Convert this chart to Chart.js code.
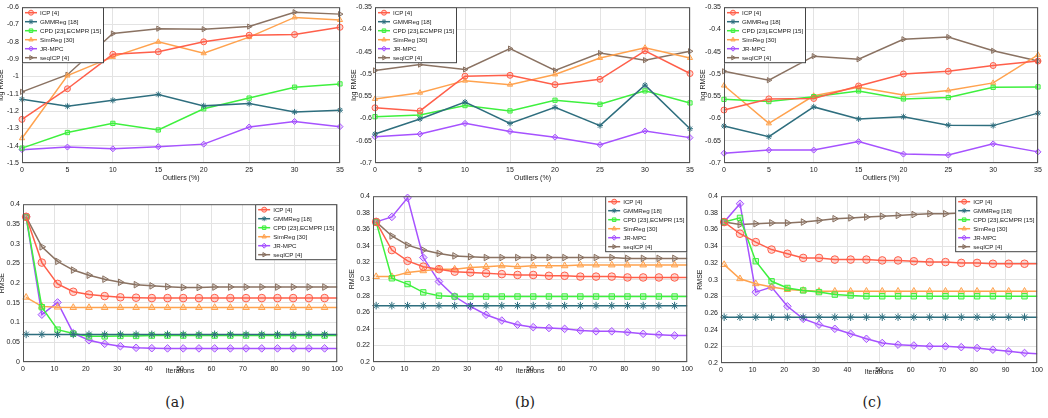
<!DOCTYPE html>
<html lang="en">
<head>
<meta charset="UTF-8">
<title>RMSE comparison</title>
<script src="https://cdn.jsdelivr.net/npm/chart.js"></script>
<style>
  body { margin: 0; background: #fff; width: 1048px; height: 418px; position: relative; overflow: hidden; }
  .panel { position: absolute; }
  .cap { position: absolute; top: 394px; width: 40px; margin-left: -20px; text-align: center;
         font-family: "DejaVu Serif", "Liberation Serif", serif; font-size: 14px; color: #222; }
</style>
</head>
<body>
<canvas class="panel" id="ta"></canvas>
<canvas class="panel" id="tb"></canvas>
<canvas class="panel" id="tc"></canvas>
<canvas class="panel" id="ba"></canvas>
<canvas class="panel" id="bb"></canvas>
<canvas class="panel" id="bc"></canvas>
<div class="cap" style="left:175px">(a)</div>
<div class="cap" style="left:525px">(b)</div>
<div class="cap" style="left:872px">(c)</div>

<script>
// series names, shared by all six plots
const methods = ['ICP [4]', 'GMMReg [18]', 'CPD [23],ECMPR [15]', 'SimReg [30]', 'JR-MPC', 'seqICP [4]'];

// x values
const outliers = [0, 5, 10, 15, 20, 25, 30, 35];
const iters = [1, 6, 11, 16, 21, 26, 31, 36, 41, 46, 51, 56, 61, 66, 71, 76, 81, 86, 91, 96, 100];

// top row: log RMSE vs outliers (%)
const topA_icp = [-1.248, -1.071, -0.872, -0.857, -0.800, -0.762, -0.758, -0.716];
const topA_gmm = [-1.132, -1.172, -1.138, -1.104, -1.170, -1.157, -1.205, -1.195];
const topA_cpd = [-1.414, -1.324, -1.271, -1.309, -1.187, -1.125, -1.062, -1.043];
const topA_sim = [-1.357, -0.995, -0.887, -0.800, -0.866, -0.773, -0.659, -0.674];
const topA_jr  = [-1.423, -1.408, -1.418, -1.406, -1.391, -1.292, -1.260, -1.290];
const topA_seq = [-1.089, -0.990, -0.752, -0.724, -0.727, -0.712, -0.629, -0.640];

const topB_icp = [-0.576, -0.583, -0.505, -0.503, -0.524, -0.512, -0.448, -0.499];
const topB_gmm = [-0.635, -0.601, -0.563, -0.611, -0.575, -0.616, -0.525, -0.623];
const topB_cpd = [-0.596, -0.592, -0.571, -0.583, -0.559, -0.568, -0.538, -0.565];
const topB_sim = [-0.556, -0.542, -0.515, -0.524, -0.501, -0.464, -0.441, -0.464];
const topB_jr  = [-0.641, -0.635, -0.611, -0.629, -0.642, -0.659, -0.628, -0.643];
const topB_seq = [-0.492, -0.479, -0.490, -0.443, -0.492, -0.453, -0.469, -0.449];

const topC_icp = [-0.581, -0.556, -0.555, -0.527, -0.500, -0.494, -0.481, -0.471];
const topC_gmm = [-0.617, -0.641, -0.574, -0.601, -0.596, -0.615, -0.616, -0.588];
const topC_cpd = [-0.557, -0.562, -0.551, -0.538, -0.556, -0.553, -0.530, -0.529];
const topC_sim = [-0.526, -0.611, -0.549, -0.530, -0.547, -0.537, -0.520, -0.457];
const topC_jr  = [-0.678, -0.671, -0.671, -0.652, -0.680, -0.682, -0.657, -0.675];
const topC_seq = [-0.494, -0.514, -0.460, -0.467, -0.422, -0.417, -0.448, -0.471];

// bottom row: RMSE vs iterations
const botA_icp = [0.368, 0.252, 0.198, 0.178, 0.171, 0.167, 0.164, 0.163, 0.162, 0.162, 0.162, 0.162, 0.162, 0.162, 0.162, 0.162, 0.162, 0.162, 0.162, 0.162, 0.162];
const botA_gmm = [0.070, 0.070, 0.070, 0.070, 0.070, 0.070, 0.070, 0.070, 0.070, 0.070, 0.070, 0.070, 0.070, 0.070, 0.070, 0.070, 0.070, 0.070, 0.070, 0.070, 0.070];
const botA_cpd = [0.368, 0.139, 0.082, 0.072, 0.065, 0.065, 0.066, 0.066, 0.067, 0.067, 0.067, 0.067, 0.067, 0.067, 0.067, 0.067, 0.067, 0.067, 0.067, 0.067, 0.067];
const botA_sim = [0.164, 0.141, 0.139, 0.138, 0.138, 0.138, 0.138, 0.138, 0.138, 0.138, 0.138, 0.138, 0.138, 0.138, 0.138, 0.138, 0.138, 0.138, 0.138, 0.138, 0.138];
const botA_jr  = [0.368, 0.120, 0.151, 0.073, 0.055, 0.046, 0.040, 0.036, 0.035, 0.0345, 0.0345, 0.0345, 0.0345, 0.0345, 0.0345, 0.0345, 0.0345, 0.0345, 0.0345, 0.0345, 0.0345];
const botA_seq = [0.368, 0.292, 0.255, 0.233, 0.220, 0.210, 0.202, 0.196, 0.193, 0.191, 0.189, 0.189, 0.190, 0.190, 0.190, 0.190, 0.190, 0.190, 0.190, 0.190, 0.190];

const botB_icp = [0.369, 0.335, 0.322, 0.315, 0.312, 0.309, 0.308, 0.307, 0.306, 0.305, 0.305, 0.304, 0.304, 0.303, 0.303, 0.303, 0.302, 0.302, 0.302, 0.302, 0.302];
const botB_gmm = [0.268, 0.268, 0.268, 0.268, 0.268, 0.268, 0.268, 0.268, 0.268, 0.268, 0.268, 0.268, 0.268, 0.268, 0.268, 0.268, 0.268, 0.268, 0.268, 0.268, 0.268];
const botB_cpd = [0.369, 0.301, 0.294, 0.284, 0.280, 0.279, 0.279, 0.279, 0.279, 0.279, 0.279, 0.279, 0.279, 0.279, 0.279, 0.279, 0.279, 0.279, 0.279, 0.279, 0.279];
const botB_sim = [0.303, 0.303, 0.308, 0.310, 0.312, 0.312, 0.314, 0.315, 0.316, 0.315, 0.316, 0.316, 0.316, 0.317, 0.317, 0.317, 0.317, 0.317, 0.317, 0.317, 0.317];
const botB_jr  = [0.369, 0.375, 0.398, 0.326, 0.297, 0.279, 0.267, 0.257, 0.250, 0.245, 0.242, 0.241, 0.240, 0.238, 0.237, 0.237, 0.236, 0.234, 0.233, 0.232, 0.232];
const botB_seq = [0.369, 0.352, 0.341, 0.335, 0.331, 0.328, 0.327, 0.326, 0.326, 0.326, 0.326, 0.326, 0.326, 0.326, 0.326, 0.326, 0.325, 0.325, 0.325, 0.325, 0.325];

const botC_icp = [0.369, 0.355, 0.345, 0.336, 0.331, 0.326, 0.326, 0.324, 0.324, 0.324, 0.323, 0.323, 0.322, 0.321, 0.321, 0.320, 0.320, 0.319, 0.319, 0.319, 0.319];
const botC_gmm = [0.255, 0.255, 0.255, 0.255, 0.255, 0.255, 0.255, 0.255, 0.255, 0.255, 0.255, 0.255, 0.255, 0.255, 0.255, 0.255, 0.255, 0.255, 0.255, 0.255, 0.255];
const botC_cpd = [0.369, 0.374, 0.322, 0.298, 0.290, 0.287, 0.285, 0.282, 0.281, 0.280, 0.280, 0.280, 0.280, 0.280, 0.280, 0.280, 0.280, 0.280, 0.280, 0.280, 0.280];
const botC_sim = [0.318, 0.301, 0.295, 0.291, 0.288, 0.287, 0.286, 0.286, 0.286, 0.286, 0.286, 0.286, 0.286, 0.286, 0.286, 0.286, 0.286, 0.286, 0.286, 0.286, 0.286];
const botC_jr  = [0.369, 0.391, 0.285, 0.291, 0.268, 0.253, 0.246, 0.241, 0.235, 0.229, 0.224, 0.222, 0.221, 0.220, 0.220, 0.219, 0.218, 0.216, 0.214, 0.212, 0.211];
const botC_seq = [0.369, 0.366, 0.367, 0.368, 0.368, 0.369, 0.371, 0.373, 0.374, 0.375, 0.376, 0.377, 0.378, 0.379, 0.379, 0.380, 0.380, 0.380, 0.380, 0.380, 0.380];

// look of each method
const styles = [
  { color: '#ff5f4a', fill: 'rgba(255,95,74,0.25)', point: 'circle', rot: 0 },
  { color: '#2e6e7e', fill: 'rgba(46,110,126,0.3)', point: 'star', rot: 0 },
  { color: '#3ef03e', fill: 'rgba(62,240,62,0.25)', point: 'rect', rot: 0 },
  { color: '#ffa24e', fill: 'rgba(255,162,78,0.25)', point: 'triangle', rot: 0 },
  { color: '#a652ff', fill: 'rgba(166,82,255,0.25)', point: 'rectRot', rot: 0 },
  { color: '#8a7262', fill: 'rgba(138,114,98,0.25)', point: 'triangle', rot: 90 }
];

const FONT = '"Liberation Sans", Arial, sans-serif';

// draws a box round the plot area, like matlab
const frame = {
  id: 'frame',
  afterDatasetsDraw(chart) {
    const a = chart.chartArea, ctx = chart.ctx;
    ctx.save();
    ctx.strokeStyle = '#555';
    ctx.lineWidth = 1;
    ctx.strokeRect(a.left + 0.5, a.top + 0.5, a.right - a.left - 1, a.bottom - a.top - 1);
    ctx.restore();
  }
};

// legend box inside the plot area
const boxLegend = {
  id: 'boxLegend',
  afterDraw(chart, args, opts) {
    const ctx = chart.ctx, a = chart.chartArea;
    const sets = chart.data.datasets;
    ctx.save();
    ctx.font = '6.2px ' + FONT;
    const rowH = 9, sample = 12, pad = 3;
    const tw = Math.max(...sets.map(d => ctx.measureText(d.label).width));
    const w = Math.round(pad + sample + 3 + tw + pad);
    const h = rowH * sets.length + 2;
    const x0 = opts.corner === 'tr' ? a.right - w : a.left;
    const y0 = a.top;
    ctx.fillStyle = '#fff';
    ctx.fillRect(x0, y0, w, h);
    ctx.strokeStyle = '#444';
    ctx.lineWidth = 1;
    ctx.strokeRect(x0 + 0.5, y0 + 0.5, w - 1, h - 1);
    sets.forEach((d, i) => {
      const y = y0 + 1 + rowH * (i + 0.5);
      ctx.strokeStyle = d.borderColor;
      ctx.lineWidth = 1.5;
      ctx.beginPath();
      ctx.moveTo(x0 + pad, y);
      ctx.lineTo(x0 + pad + sample, y);
      ctx.stroke();
      ctx.fillStyle = d.pointBackgroundColor;
      ctx.lineWidth = 1;
      Chart.helpers.drawPoint(ctx, { pointStyle: d.pointStyle, radius: 2.5, rotation: d.pointRotation, borderWidth: 1 },
        x0 + pad + sample / 2, y);
      ctx.fillStyle = '#222';
      ctx.textBaseline = 'middle';
      ctx.fillText(d.label, x0 + pad + sample + 3, y + 0.5);
    });
    ctx.restore();
  }
};

function makeSets(xs, series, radius) {
  return series.map((vals, i) => {
    const s = styles[i];
    return {
      label: methods[i],
      data: xs.map((x, k) => ({ x: x, y: vals[k] })),
      borderColor: s.color,
      backgroundColor: s.fill,
      pointBackgroundColor: s.fill,
      pointBorderColor: s.color,
      pointStyle: s.point,
      pointRotation: s.rot,
      // last iteration sample carries the line to 100 but has no marker
      pointRadius: ctx => (xs === iters && ctx.dataIndex === xs.length - 1) ? 0 : radius,
      pointBorderWidth: 1,
      borderWidth: 1.5,
      tension: 0,
      clip: false
    };
  });
}

// matlab style labels: 0.1, 0.15, -1, -0.35
const shortNum = v => String(parseFloat(Number(v).toFixed(4)));

function axis(min, max, step, title, fixed, isX) {
  return {
    type: 'linear',
    min: min,
    max: max,
    ticks: { stepSize: step, color: '#222', font: { family: FONT, size: 7 }, padding: 3, callback: shortNum },
    grid: { color: '#e3e3e3', drawTicks: false },
    border: { display: false },
    title: { display: true, text: title, color: '#222', font: { family: FONT, size: 7 }, padding: { top: 1, bottom: isX ? 3 : 1 } },
    afterFit(s) { if (isX) s.height = fixed; else s.width = fixed; }
  };
}

// plot area of each panel in page pixels
const panels = [
  { id: 'ta', L: 22,  T: 6,   R: 340,  B: 163, top: true,  xs: outliers, s: [topA_icp, topA_gmm, topA_cpd, topA_sim, topA_jr, topA_seq], y: [-1.5, -0.6, 0.1] },
  { id: 'tb', L: 375, T: 6,   R: 690,  B: 163, top: true,  xs: outliers, s: [topB_icp, topB_gmm, topB_cpd, topB_sim, topB_jr, topB_seq], y: [-0.7, -0.35, 0.05] },
  { id: 'tc', L: 724, T: 6,   R: 1038, B: 163, top: true,  xs: outliers, s: [topC_icp, topC_gmm, topC_cpd, topC_sim, topC_jr, topC_seq], y: [-0.7, -0.35, 0.05] },
  { id: 'ba', L: 23,  T: 203, R: 338,  B: 362, top: false, xs: iters, s: [botA_icp, botA_gmm, botA_cpd, botA_sim, botA_jr, botA_seq], y: [0, 0.4, 0.05] },
  { id: 'bb', L: 373, T: 195, R: 688,  B: 362, top: false, xs: iters, s: [botB_icp, botB_gmm, botB_cpd, botB_sim, botB_jr, botB_seq], y: [0.2, 0.4, 0.02] },
  { id: 'bc', L: 721, T: 195, R: 1038, B: 363, top: false, xs: iters, s: [botC_icp, botC_gmm, botC_cpd, botC_sim, botC_jr, botC_seq], y: [0.2, 0.4, 0.02] }
];

const YW = 26, PT = 6, PR = 8;

panels.forEach(p => {
  const hx = p.top ? 22 : 16;
  const cv = document.getElementById(p.id);
  const w = p.R - p.L + YW + PR, h = p.B - p.T + PT + hx;
  cv.width = w; cv.height = h;
  cv.style.left = (p.L - YW) + 'px';
  cv.style.top = (p.T - PT) + 'px';
  cv.style.width = w + 'px'; cv.style.height = h + 'px';

  new Chart(cv, {
    type: 'line',
    data: { datasets: makeSets(p.xs, p.s, p.top ? 3 : 3.8) },
    options: {
      responsive: false,
      animation: false,
      layout: { padding: { top: PT, right: PR, left: 0, bottom: 0 } },
      plugins: {
        legend: { display: false },
        tooltip: { enabled: false },
        boxLegend: { corner: p.top ? 'tl' : 'tr' }
      },
      scales: {
        x: axis(0, p.top ? 35 : 100, p.top ? 5 : 10, p.top ? 'Outliers (%)' : 'Iterations', hx, true),
        y: axis(p.y[0], p.y[1], p.y[2], p.top ? 'log RMSE' : 'RMSE', YW, false)
      }
    },
    plugins: [frame, boxLegend]
  });
});
</script>
</body>
</html>
